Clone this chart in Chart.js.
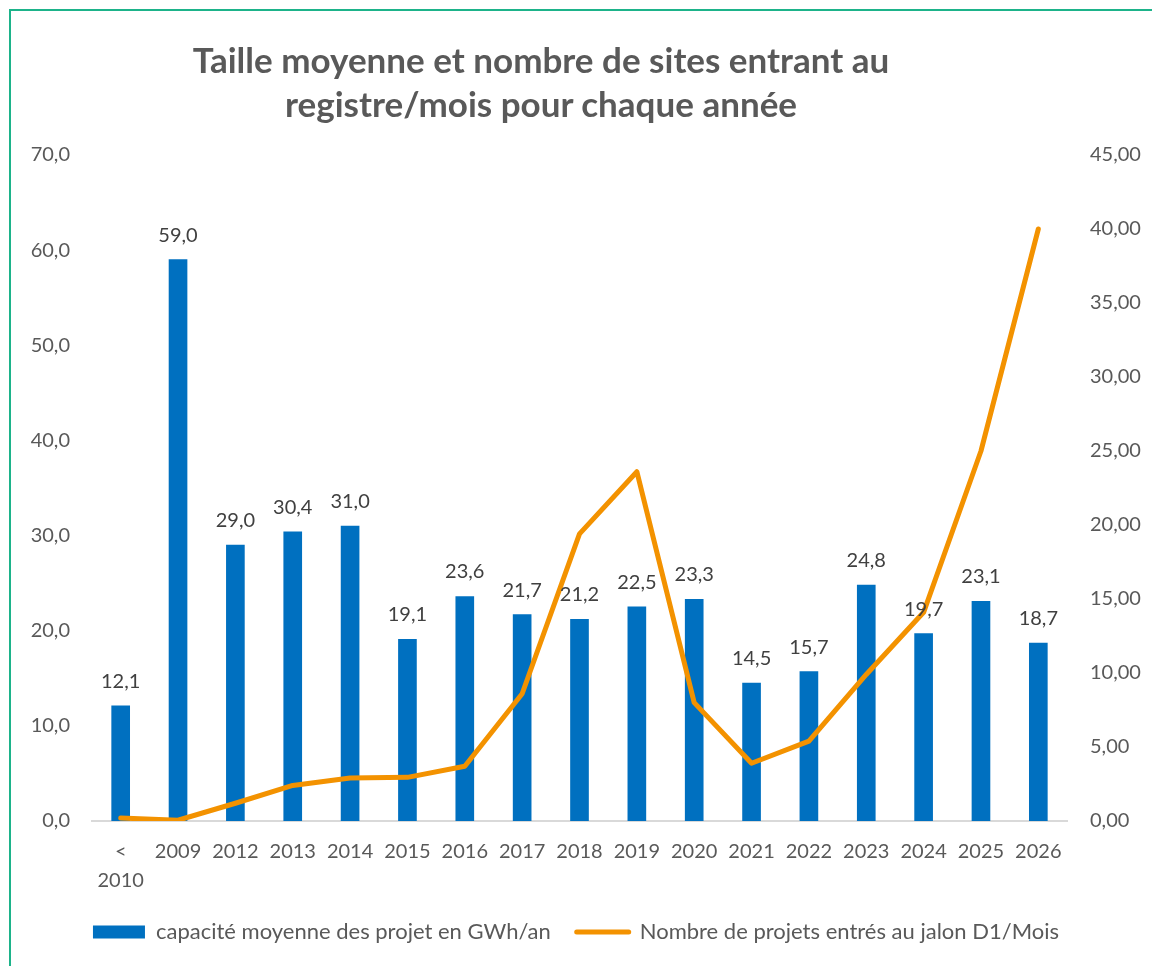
<!DOCTYPE html>
<html lang="fr">
<head>
<meta charset="utf-8">
<title>Taille moyenne et nombre de sites</title>
<script src="https://cdn.jsdelivr.net/npm/chart.js@4.4.1/dist/chart.umd.min.js"></script>
<style>
  html, body { margin: 0; padding: 0; background: #fff; }
  #wrap { position: relative; width: 1152px; height: 966px; overflow: hidden; }
  #frame { position: absolute; left: 9px; top: 9px; width: 1200px; height: 1000px;
           border-left: 2px solid #1DB38A; border-top: 2px solid #1DB38A; }
  #title { position: absolute; left: 0; top: 37px; width: 1082px; text-align: center;
           font: bold 35px Lato, sans-serif; color: #595959; line-height: 44px; }
  canvas { position: absolute; left: 0; top: 0; }
</style>
</head>
<body>
<div id="wrap">
  <div id="frame"></div>
  <canvas id="myChart" width="1152" height="966"></canvas>
  <div id="title">Taille moyenne et nombre de sites entrant au<br>registre/mois pour chaque année</div>
</div>
<script>
// data
let categories = [['<', '2010'], '2009', '2012', '2013', '2014', '2015', '2016', '2017', '2018', '2019', '2020', '2021', '2022', '2023', '2024', '2025', '2026'];
let capacite = [12.1, 59.0, 29.0, 30.4, 31.0, 19.1, 23.6, 21.7, 21.2, 22.5, 23.3, 14.5, 15.7, 24.8, 19.7, 23.1, 18.7];
let nbProjets = [0.2, 0.05, 1.2, 2.4, 2.9, 2.95, 3.7, 8.6, 19.4, 23.6, 8.0, 3.9, 5.4, 9.9, 14.1, 25.0, 40.0];
let leftMax = 70, leftStep = 10;
let rightMax = 45, rightStep = 5;

let grey = '#595959';
let fnt = 'Lato, sans-serif';

function fmt1(v) { return v.toFixed(1).replace('.', ','); }
function fmt2(v) { return v.toFixed(2).replace('.', ','); }

// value labels above the bars
let barLabels = {
    id: 'barLabels',
    afterDatasetsDraw(chart) {
        let ctx = chart.ctx;
        let meta = chart.getDatasetMeta(1);
        ctx.save();
        ctx.font = '20px ' + fnt;
        ctx.fillStyle = '#404040';
        ctx.textAlign = 'center';
        ctx.textBaseline = 'alphabetic';
        meta.data.forEach((bar, i) => {
            ctx.fillText(fmt1(capacite[i]), bar.x, bar.y - 18);
        });
        ctx.restore();
    }
};

let ctx = document.getElementById('myChart').getContext('2d');
let myChart = new Chart(ctx, {
    type: 'bar',
    data: {
        labels: categories,
        datasets: [{
            type: 'line',
            label: 'Nombre de projets entrés au jalon D1/Mois',
            data: nbProjets,
            yAxisID: 'y1',
            borderColor: '#F39200',
            backgroundColor: '#F39200',
            borderWidth: 5,
            borderCapStyle: 'round',
            borderJoinStyle: 'round',
            pointRadius: 0,
            tension: 0,
            order: 0
        }, {
            label: 'capacité moyenne des projet en GWh/an',
            data: capacite,
            yAxisID: 'y',
            backgroundColor: '#0070C0',
            barThickness: 18,
            order: 1
        }]
    },
    options: {
        responsive: false,
        animation: false,
        layout: { padding: { top: 155, left: 0, right: 0, bottom: 13 } },
        plugins: {
            title: { display: false },
            tooltip: { enabled: false },
            legend: {
                position: 'bottom',
                reverse: true,
                labels: {
                    color: grey,
                    font: { family: fnt, size: 22 },
                    usePointStyle: true,
                    pointStyleWidth: 52,
                    boxHeight: 13,
                    padding: 26,
                    generateLabels(chart) {
                        let items = Chart.defaults.plugins.legend.labels.generateLabels(chart);
                        items.forEach(it => {
                            if (it.datasetIndex === 0) {
                                it.pointStyle = 'line';
                                it.lineWidth = 5;
                                it.strokeStyle = '#F39200';
                                it.lineCap = 'round';
                            } else {
                                it.pointStyle = 'rect';
                                it.lineWidth = 0;
                                it.fillStyle = '#0070C0';
                            }
                        });
                        return items;
                    }
                }
            }
        },
        scales: {
            x: {
                grid: { display: false, drawTicks: false },
                border: { display: true, color: '#D9D9D9', width: 2 },
                ticks: {
                    color: grey,
                    font: { family: fnt, size: 20, lineHeight: 1.45 },
                    padding: 16,
                    maxRotation: 0,
                    autoSkip: false
                },
                afterFit(s) { s.height = 74; }
            },
            y: {
                position: 'left',
                min: 0,
                max: leftMax,
                grid: { display: false, drawTicks: false },
                border: { display: false },
                ticks: {
                    stepSize: leftStep,
                    color: grey,
                    font: { family: fnt, size: 20 },
                    padding: 22,
                    callback: v => fmt1(v)
                },
                afterFit(s) { s.width = 92; }
            },
            y1: {
                position: 'right',
                min: 0,
                max: rightMax,
                grid: { display: false, drawTicks: false },
                border: { display: false },
                ticks: {
                    stepSize: rightStep,
                    color: grey,
                    font: { family: fnt, size: 20 },
                    padding: 23,
                    callback: v => fmt2(v)
                },
                afterFit(s) { s.width = 85; }
            }
        }
    },
    plugins: [barLabels]
});
</script>
</body>
</html>
